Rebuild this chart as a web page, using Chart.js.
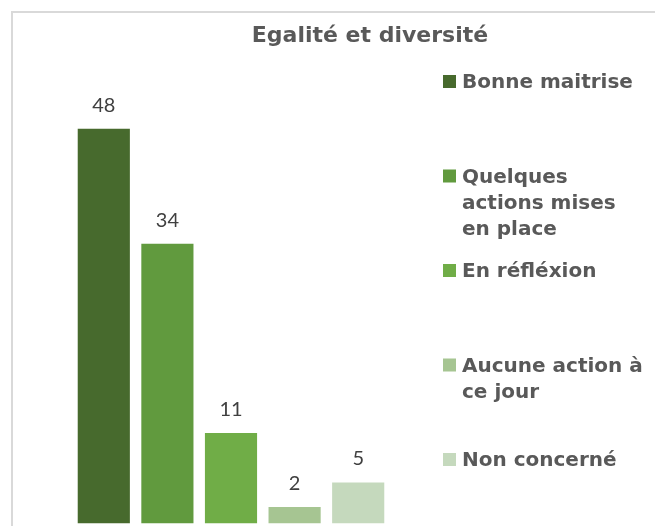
<!DOCTYPE html>
<html>
<head>
<meta charset="utf-8">
<script src="https://cdn.jsdelivr.net/npm/chart.js@4/dist/chart.umd.min.js"></script>
<style>
  html, body { margin: 0; padding: 0; background: #ffffff; overflow: hidden; }
  #wrap { position: relative; width: 655px; height: 526px; }
  #frame {
    position: absolute; left: 11px; top: 11px;
    width: 800px; height: 700px;
    border-left: 2px solid #d9d9d9; border-top: 2px solid #d9d9d9;
  }
  canvas { position: absolute; left: 0; top: 0; }
</style>
</head>
<body>
<div id="wrap">
  <div id="frame"></div>
  <canvas id="chart" width="655" height="526"></canvas>
</div>
<script>
// Egalité et diversité

const chartTitle = "Egalité et diversité";

const categories = [
  "Bonne maitrise",
  "Quelques actions mises en place",
  "En réfléxion",
  "Aucune action à ce jour",
  "Non concerné"
];

// legend lines as they wrap in the picture
const legendLines = [
  ["Bonne maitrise"],
  ["Quelques", "actions mises", "en place"],
  ["En réfléxion"],
  ["Aucune action à", "ce jour"],
  ["Non concerné"]
];

const values = [48, 34, 11, 2, 5];

const colors = ["#476a2d", "#619a3e", "#70ad47", "#a6c592", "#c5d9bd"];

/* ===============================
   Title, legend and value labels
=============================== */
const decorPlugin = {
  id: "decor",
  afterDatasetsDraw(chart) {
    const ctx = chart.ctx;
    const meta = chart.getDatasetMeta(0);

    ctx.save();

    // value labels above bars
    ctx.fillStyle = "#404040";
    ctx.font = "20px Lato";
    ctx.textAlign = "center";
    ctx.textBaseline = "alphabetic";
    meta.data.forEach((bar, i) => {
      ctx.fillText(String(values[i]), bar.x, bar.y - 17);
    });

    // title
    ctx.fillStyle = "#595959";
    ctx.font = "bold 22px 'DejaVu Sans'";
    ctx.fillText(chartTitle, 370, 42);

    // legend
    ctx.textAlign = "left";
    ctx.font = "bold 20px 'DejaVu Sans'";
    const step = 94.5;
    const lineH = 26;
    legendLines.forEach((lines, i) => {
      const y0 = 88 + i * step;
      ctx.fillStyle = colors[i];
      ctx.fillRect(443, y0 - 13, 13, 13);
      ctx.fillStyle = "#595959";
      lines.forEach((t, j) => {
        ctx.fillText(t, 462, y0 + j * lineH);
      });
    });

    ctx.restore();
  }
};

const ctx = document.getElementById("chart").getContext("2d");

new Chart(ctx, {
  type: "bar",
  data: {
    labels: categories,
    datasets: [{
      label: chartTitle,
      data: values,
      backgroundColor: colors,
      borderWidth: 0,
      categoryPercentage: 1,
      barPercentage: 0.82
    }]
  },
  options: {
    responsive: false,
    animation: false,
    layout: {
      padding: { left: 72, right: 265, top: 30, bottom: 2.5 }
    },
    scales: {
      x: { display: false },
      y: { display: false, min: 0, max: 60 }
    },
    plugins: {
      legend: { display: false },
      title: { display: false },
      tooltip: { enabled: false }
    }
  },
  plugins: [decorPlugin]
});
</script>
</body>
</html>
